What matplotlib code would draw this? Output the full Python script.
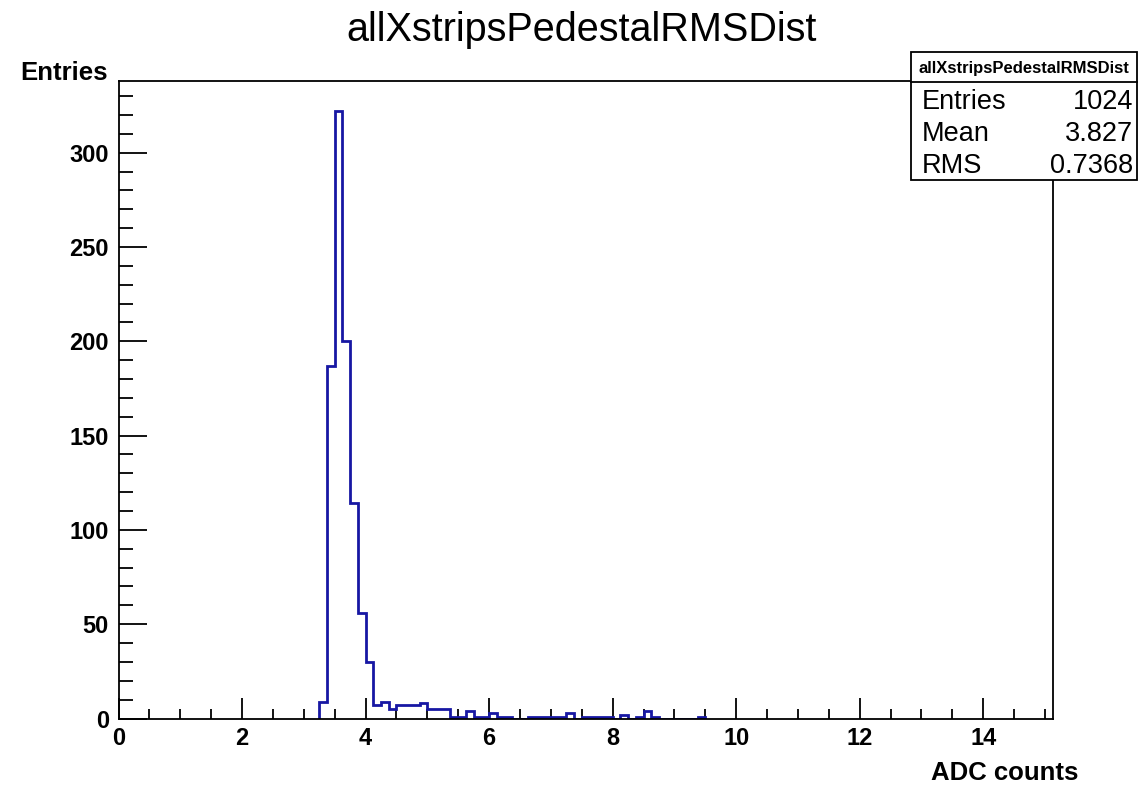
import numpy as np
import matplotlib
matplotlib.use("Agg")
import matplotlib.pyplot as plt
from matplotlib.ticker import MultipleLocator
from matplotlib.patches import Rectangle
from matplotlib.lines import Line2D

plt.rcParams['font.family'] = ['Liberation Sans', 'DejaVu Sans']

# ---- data ----
title = "allXstripsPedestalRMSDist"
x_label = "ADC counts"
y_label = "Entries"
bin_width = 0.125
x_min, x_max = 0.0, 15.125
first_bin_left = 3.25
counts = [9, 187, 322, 200, 114, 56, 30, 7, 9, 5,
          7, 7, 7, 8, 5, 5, 5, 1, 1, 4,
          1, 1, 3, 1, 1, 0, 0, 1, 1, 1,
          1, 1, 3, 0, 1, 1, 1, 1, 0, 2,
          0, 1, 4, 1, 0, 0, 0, 0, 0, 1]
stats_labels = ["Entries", "Mean", "RMS"]
stats_values = ["1024", "3.827", "0.7368"]
y_max = 338.0

W, H = 1140, 787
fig = plt.figure(figsize=(W / 100, H / 100), dpi=100)

ax_l, ax_r, ax_t, ax_b = 118.5, 1052.7, 81.0, 718.5
ax = fig.add_axes([ax_l / W, 1 - ax_b / H, (ax_r - ax_l) / W, (ax_b - ax_t) / H])

counts = np.array(counts, dtype=float)
edges = first_bin_left + bin_width * np.arange(len(counts) + 1)
ax.stairs(counts, edges, color='#1717a3', linewidth=2.0, baseline=0, zorder=3)

ax.set_xlim(x_min, x_max)
ax.set_ylim(0, y_max)

for s in ax.spines.values():
    s.set_linewidth(1.3)
    s.set_zorder(4)

ax.xaxis.set_major_locator(MultipleLocator(2))
ax.xaxis.set_minor_locator(MultipleLocator(0.5))
ax.yaxis.set_major_locator(MultipleLocator(50))
ax.yaxis.set_minor_locator(MultipleLocator(10))

ax.tick_params(axis='x', which='major', direction='in', length=15, width=1.3, pad=6)
ax.tick_params(axis='x', which='minor', direction='in', length=7.5, width=1.3)
ax.tick_params(axis='y', which='major', direction='in', length=20, width=1.3, pad=7)
ax.tick_params(axis='y', which='minor', direction='in', length=10, width=1.3)
ax.tick_params(top=False, right=False, which='both')
for lab in ax.get_xticklabels() + ax.get_yticklabels():
    lab.set_fontsize(17)
    lab.set_fontweight('bold')

fig.text(582 / W, 1 - 30 / H, title, ha='center', va='center', fontsize=28.5)
fig.text(108 / W, 1 - 73 / H, y_label, ha='right', va='center', fontsize=18.5, fontweight='bold')
fig.text(1078 / W, 1 - 773 / H, x_label, ha='right', va='center', fontsize=18.5, fontweight='bold')

# stats box
bx0, bx1, by0, by1 = 911, 1137, 52, 180
fig.add_artist(Rectangle((bx0 / W, 1 - by1 / H), (bx1 - bx0) / W, (by1 - by0) / H,
                         transform=fig.transFigure, facecolor='white', edgecolor='black',
                         linewidth=1.3, zorder=10))
fig.add_artist(Line2D([bx0 / W, bx1 / W], [1 - 82 / H, 1 - 82 / H], transform=fig.transFigure,
                      color='black', linewidth=1.3, zorder=11))
fig.text((bx0 + bx1) / 2 / W, 1 - 68 / H, title, ha='center', va='center', fontsize=12,
         fontweight='bold', zorder=12)
for i, (lab, val) in enumerate(zip(stats_labels, stats_values)):
    yy = 1 - (102 + 32 * i) / H
    fig.text(922 / W, yy, lab, ha='left', va='center', fontsize=19.5, zorder=12)
    fig.text(1133 / W, yy, val, ha='right', va='center', fontsize=19.5, zorder=12)

fig.savefig("out.png", dpi=100)
